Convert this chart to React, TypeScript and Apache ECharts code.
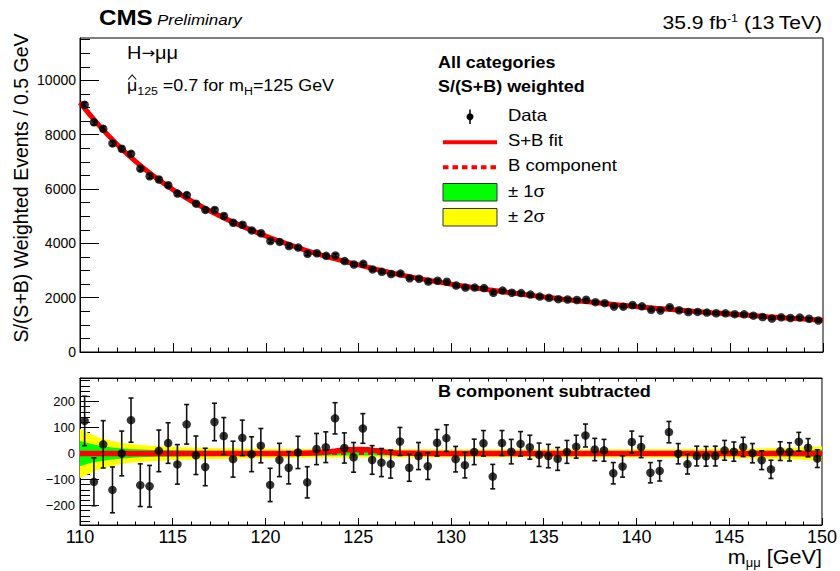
import React, { useEffect, useRef } from 'react';
import * as echarts from 'echarts';

const FONT = 'Liberation Sans, Arial, Helvetica, sans-serif';

// binning of the histogram (0.5 GeV bins from 110 to 150 GeV)
const BIN_START = 110;
const BIN_WIDTH = 0.5;

// S/(S+B) weighted events per bin (upper panel)
const dataWeighted = [
  9100, 8456, 8215, 7680, 7482, 7295, 6750, 6471, 6350, 6140,
  5833, 5777, 5460, 5230, 5227, 5006, 4757, 4686, 4477, 4370,
  4085, 4054, 3901, 3843, 3615, 3636, 3540, 3554, 3346, 3220,
  3245, 3041, 2952, 2871, 2887, 2717, 2697, 2595, 2625, 2585,
  2448, 2372, 2371, 2354, 2178, 2260, 2182, 2169, 2113, 2041,
  1995, 1945, 1933, 1916, 1923, 1834, 1797, 1676, 1669, 1730,
  1680, 1551, 1529, 1649, 1538, 1471, 1476, 1450, 1426, 1424,
  1394, 1387, 1339, 1288, 1229, 1276, 1251, 1268, 1223, 1160,
];

// data minus B component (lower panel)
const residuals = [
  125, -109, 35, -140, 0, 128, -122, -126, 10, 40,
  -42, 112, -7, -52, 121, 67, -22, 60, -3, 30,
  -121, -25, -55, 4, -111, 17, 24, 135, 21, -15,
  96, -25, -35, -41, 46, -55, -10, -49, 41, 59,
  -22, -45, 6, 39, -89, 40, 7, 37, 24, -5,
  -10, -21, 6, 26, 69, 15, 12, -76, -50, 44,
  25, -74, -67, 82, -1, -41, -10, -11, -10, 12,
  7, 25, 1, -26, -61, 9, 6, 45, 22, -20,
];

// statistical uncertainty per bin
const errors = [
  95, 92, 91, 88, 86, 85, 82, 80, 80, 78,
  76, 76, 74, 72, 72, 71, 69, 68, 67, 66,
  64, 64, 62, 62, 60, 60, 59, 60, 58, 57,
  57, 55, 54, 54, 54, 52, 52, 51, 51, 51,
  49, 49, 49, 49, 47, 48, 47, 47, 46, 45,
  45, 44, 44, 44, 44, 43, 42, 41, 41, 42,
  41, 39, 39, 41, 39, 38, 38, 38, 38, 38,
  37, 37, 37, 36, 35, 36, 35, 36, 35, 34,
];

// fit curves sampled every 1 GeV (upper panel)
const fitX = [
  110, 111, 112, 113, 114, 115, 116, 117, 118, 119,
  120, 121, 122, 123, 124, 125, 126, 127, 128, 129,
  130, 131, 132, 133, 134, 135, 136, 137, 138, 139,
  140, 141, 142, 143, 144, 145, 146, 147, 148, 149, 150,
];
const fitB = [
  9180, 8360, 7640, 7010, 6460, 5980, 5560, 5190, 4855, 4550,
  4270, 4015, 3780, 3565, 3370, 3190, 3025, 2875, 2738, 2613,
  2497, 2390, 2290, 2197, 2110, 2025, 1946, 1872, 1802, 1735,
  1670, 1610, 1553, 1499, 1448, 1400, 1350, 1302, 1256, 1212, 1170,
];
const fitSB = [
  9180, 8360, 7640, 7010, 6460, 5980, 5560, 5190, 4855, 4550,
  4270, 4015, 3781, 3569, 3381, 3205, 3035, 2877, 2738, 2613,
  2497, 2390, 2290, 2197, 2110, 2025, 1946, 1872, 1802, 1735,
  1670, 1610, 1553, 1499, 1448, 1400, 1350, 1302, 1256, 1212, 1170,
];

// S+B fit minus B component (lower panel)
const sigX = [110, 121, 122, 123, 123.5, 124, 124.5, 125, 125.5, 126, 126.5, 127, 128, 129, 150];
const sigY = [0, 0, 1, 4, 7, 11, 14, 15, 14, 10, 5, 2, 0.5, 0, 0];

// uncertainty bands of the B component (lower panel)
const bandX = [110, 110.25, 110.5, 110.75, 111, 111.5, 112, 112.5, 113, 114, 115, 116, 117, 118, 120, 122, 125, 128, 130, 135, 140, 143, 145, 146, 147, 148, 149, 150];
const sigma1 = [48, 43, 38, 34, 31, 25, 21, 18, 16, 13, 12, 11, 10, 9.5, 9, 8.5, 8, 8, 7.5, 7.5, 8, 8.5, 9, 9.5, 10, 11, 12, 14];
const sigma2 = [95, 86, 78, 69, 62, 52, 44, 38, 34, 29, 25, 23, 21, 20, 18, 17, 16, 16, 15, 15, 16, 17, 18, 19, 20, 21.5, 24, 28];

// tick labels
const xTickLabels = [110, 115, 120, 125, 130, 135, 140, 145, 150];
const upperYTickLabels = [0, 2000, 4000, 6000, 8000, 10000];
const lowerYTickLabels = [-200, -100, 0, 100, 200];

const X_MIN = 110;
const X_MAX = 150;
const UPPER_Y_MAX = 11560;
const LOWER_Y_MIN = -275;
const LOWER_Y_MAX = 290;

function range(a: number, b: number, step: number) {
  const out: number[] = [];
  for (let v = a; v <= b + 1e-9; v += step) out.push(Math.round(v * 1000) / 1000);
  return out;
}

const xMinor = range(110, 150, 1).filter((v) => v % 5 !== 0);
const upperYMinor = range(500, 11500, 500).filter((v) => v % 2000 !== 0);
const lowerYMinor = range(-260, 280, 20).filter((v) => v % 100 !== 0);

const BLACK = '#000000';
const RED = '#ff0000';

function fmtNum(v: number) {
  return v < 0 ? '\u2212' + Math.abs(v) : String(v);
}

function errorBarRender(params: any, api: any) {
  const x = api.value(0);
  const lo = api.value(1);
  const hi = api.value(2);
  const pLo = api.coord([x, lo]);
  const pHi = api.coord([x, hi]);
  const cap = 2.5;
  const st = { stroke: '#111', lineWidth: 1.6 };
  return {
    type: 'group',
    children: [
      { type: 'line', shape: { x1: pLo[0], y1: pLo[1], x2: pHi[0], y2: pHi[1] }, style: st },
      { type: 'line', shape: { x1: pLo[0] - cap, y1: pLo[1], x2: pLo[0] + cap, y2: pLo[1] }, style: st },
      { type: 'line', shape: { x1: pHi[0] - cap, y1: pHi[1], x2: pHi[0] + cap, y2: pHi[1] }, style: st },
    ],
  };
}

function bandRender(params: any, api: any) {
  const poly = (s: number[]) => {
    const up = bandX.map((x, i) => api.coord([x, s[i]]));
    const down = bandX.map((x, i) => api.coord([x, -s[i]])).reverse();
    return up.concat(down);
  };
  return {
    type: 'group',
    children: [
      { type: 'polygon', shape: { points: poly(sigma2) }, style: { fill: '#ffff00' } },
      { type: 'polygon', shape: { points: poly(sigma1) }, style: { fill: '#00ff00' } },
    ],
  };
}

function txt(x: number, y: number, text: string, opts: any = {}) {
  const { scaleX = 1, rotation = 0, align = 'left', rich, ...rest } = opts;
  return {
    type: 'text',
    x,
    y,
    scaleX,
    rotation,
    z: 100,
    style: {
      text,
      fill: BLACK,
      fontFamily: FONT,
      align,
      textAlign: align,
      verticalAlign: 'middle',
      textVerticalAlign: 'middle',
      rich,
      ...rest,
    },
  };
}

export default function App() {
  const ref = useRef<HTMLDivElement>(null);

  useEffect(() => {
    document.body.style.margin = '0';
    if (!ref.current) return;
    const chart = echarts.init(ref.current, null, { renderer: 'svg' });

    const centers = dataWeighted.map((_, i) => BIN_START + (i + 0.5) * BIN_WIDTH);

    const tickStyle = { color: BLACK, width: 1 };
    const xBase = { type: 'value', min: X_MIN, max: X_MAX, splitLine: { show: false } };

    const option: any = {
      animation: false,
      backgroundColor: '#ffffff',
      grid: [
        { left: 80, top: 38, width: 743, height: 314, show: true, borderColor: BLACK, borderWidth: 1, backgroundColor: 'transparent' },
        { left: 80, top: 378, width: 743, height: 147, show: true, borderColor: BLACK, borderWidth: 1, backgroundColor: 'transparent' },
      ],
      xAxis: [
        {
          ...xBase, gridIndex: 0, position: 'bottom',
          axisLine: { show: true, onZero: false, lineStyle: tickStyle },
          axisTick: { show: true, inside: true, length: 9, customValues: xTickLabels, lineStyle: tickStyle },
          axisLabel: { show: false },
        },
        {
          ...xBase, gridIndex: 0, position: 'bottom',
          axisLine: { show: false, onZero: false },
          axisTick: { show: true, inside: true, length: 4.5, customValues: xMinor, lineStyle: tickStyle },
          axisLabel: { show: false },
        },
        {
          ...xBase, gridIndex: 1, position: 'bottom',
          axisLine: { show: true, onZero: false, lineStyle: tickStyle },
          axisTick: { show: true, inside: true, length: 7, customValues: xTickLabels, lineStyle: tickStyle },
          axisLabel: {
            show: true, customValues: xTickLabels, fontSize: 18, margin: 3, color: BLACK, fontFamily: FONT,
            formatter: (v: number) => String(v),
          },
        },
        {
          ...xBase, gridIndex: 1, position: 'bottom',
          axisLine: { show: false, onZero: false },
          axisTick: { show: true, inside: true, length: 3.5, customValues: xMinor, lineStyle: tickStyle },
          axisLabel: { show: false },
        },
        {
          ...xBase, gridIndex: 1, position: 'top',
          axisLine: { show: true, onZero: false, lineStyle: tickStyle },
          axisTick: { show: true, inside: true, length: 3.5, customValues: range(111, 149, 1), lineStyle: tickStyle },
          axisLabel: { show: false },
        },
      ],
      yAxis: [
        {
          type: 'value', gridIndex: 0, position: 'left', min: 0, max: UPPER_Y_MAX, splitLine: { show: false },
          axisLine: { show: true, onZero: false, lineStyle: tickStyle },
          axisTick: { show: true, inside: true, length: 19, customValues: upperYTickLabels, lineStyle: tickStyle },
          axisLabel: {
            show: true, customValues: upperYTickLabels, fontSize: 14, margin: 4, color: BLACK, fontFamily: FONT,
            formatter: (v: number) => fmtNum(v),
          },
        },
        {
          type: 'value', gridIndex: 0, position: 'left', min: 0, max: UPPER_Y_MAX, splitLine: { show: false },
          axisLine: { show: false, onZero: false },
          axisTick: { show: true, inside: true, length: 10, customValues: upperYMinor, lineStyle: tickStyle },
          axisLabel: { show: false },
        },
        {
          type: 'value', gridIndex: 1, position: 'left', min: LOWER_Y_MIN, max: LOWER_Y_MAX, splitLine: { show: false },
          axisLine: { show: true, onZero: false, lineStyle: tickStyle },
          axisTick: { show: true, inside: true, length: 19, customValues: lowerYTickLabels, lineStyle: tickStyle },
          axisLabel: {
            show: true, customValues: lowerYTickLabels, fontSize: 13, margin: 5, color: BLACK, fontFamily: FONT,
            formatter: (v: number) => fmtNum(v),
          },
        },
        {
          type: 'value', gridIndex: 1, position: 'left', min: LOWER_Y_MIN, max: LOWER_Y_MAX, splitLine: { show: false },
          axisLine: { show: false, onZero: false },
          axisTick: { show: true, inside: true, length: 10, customValues: lowerYMinor, lineStyle: tickStyle },
          axisLabel: { show: false },
        },
      ],
      series: [
        // ---------- upper panel ----------
        {
          name: 'B component', type: 'line', xAxisIndex: 0, yAxisIndex: 0, z: 2,
          data: fitX.map((x, i) => [x, fitB[i]]), smooth: 0.4, showSymbol: false, symbol: 'none',
          lineStyle: { color: RED, width: 3, type: [6, 3] },
        },
        {
          name: 'S+B fit', type: 'line', xAxisIndex: 0, yAxisIndex: 0, z: 3,
          data: fitX.map((x, i) => [x, fitSB[i]]), smooth: 0.4, showSymbol: false, symbol: 'none',
          lineStyle: { color: RED, width: 5 },
        },
        {
          name: 'Data errors', type: 'custom', xAxisIndex: 0, yAxisIndex: 0, z: 4,
          renderItem: errorBarRender, encode: { x: 0, y: [1, 2] },
          data: dataWeighted.map((v, i) => [centers[i], v - errors[i], v + errors[i]]),
        },
        {
          name: 'Data', type: 'scatter', xAxisIndex: 0, yAxisIndex: 0, z: 5,
          data: dataWeighted.map((v, i) => [centers[i], v]),
          symbol: 'circle', symbolSize: 8.5, itemStyle: { color: BLACK },
        },
        // ---------- lower panel ----------
        {
          name: 'bands', type: 'custom', xAxisIndex: 2, yAxisIndex: 2, z: 1,
          renderItem: bandRender, encode: { x: 0, y: 1 }, data: [[130, 0]],
        },
        {
          name: 'B component (sub)', type: 'line', xAxisIndex: 2, yAxisIndex: 2, z: 2,
          data: [[X_MIN, 0], [X_MAX, 0]], showSymbol: false, symbol: 'none',
          lineStyle: { color: RED, width: 3, type: [5, 4] },
        },
        {
          name: 'S+B fit (sub)', type: 'line', xAxisIndex: 2, yAxisIndex: 2, z: 3,
          data: sigX.map((x, i) => [x, sigY[i]]), smooth: 0.5, showSymbol: false, symbol: 'none',
          lineStyle: { color: RED, width: 5.5 },
        },
        {
          name: 'Residual errors', type: 'custom', xAxisIndex: 2, yAxisIndex: 2, z: 4,
          renderItem: errorBarRender, encode: { x: 0, y: [1, 2] },
          data: residuals.map((v, i) => [centers[i], v - errors[i], v + errors[i]]),
        },
        {
          name: 'Residuals', type: 'scatter', xAxisIndex: 2, yAxisIndex: 2, z: 5,
          data: residuals.map((v, i) => [centers[i], v]),
          symbol: 'circle', symbolSize: 8.5, itemStyle: { color: BLACK },
        },
      ],
      graphic: [
        // header
        txt(99, 17, 'CMS', { fontSize: 22, fontWeight: 'bold', scaleX: 1.1 }),
        txt(157, 19.5, 'Preliminary', { fontSize: 15, fontStyle: 'italic', scaleX: 1.13 }),
        txt(822, 22, '{a|35.9 fb}{s|-1}{a| (13\u2009TeV)}', {
          align: 'right', scaleX: 1.14,
          rich: {
            a: { fontSize: 18.5, lineHeight: 20, fontFamily: FONT, fill: BLACK },
            s: { fontSize: 11, lineHeight: 11, verticalAlign: 'top', fontFamily: FONT, fill: BLACK },
          },
        }),
        // y axis title
        txt(21, 188, 'S/(S+B) Weighted Events / 0.5 GeV', { fontSize: 19.5, align: 'center', rotation: Math.PI / 2 }),
        // annotations
        txt(127, 53, '{a|H}{r|\u2192}{a|\u03bc\u03bc}', {
          scaleX: 1.08,
          rich: {
            a: { fontSize: 18.5, lineHeight: 22, fontFamily: FONT, fill: BLACK },
            r: { fontSize: 15, lineHeight: 22, fontFamily: 'DejaVu Sans', fill: BLACK },
          },
        }),
        txt(127, 86, '{a|\u03bc}{s|125}{a| =0.7 for m}{s|H}{a|=125 GeV}', {
          scaleX: 1.12,
          rich: {
            a: { fontSize: 16, lineHeight: 20, fontFamily: FONT, fill: BLACK },
            s: { fontSize: 11, lineHeight: 11, verticalAlign: 'bottom', fontFamily: FONT, fill: BLACK },
          },
        }),
        // circumflex (hat) over mu
        {
          type: 'polyline', z: 100,
          shape: { points: [[128.2, 79.5], [132.2, 75], [136.2, 79.5]] },
          style: { stroke: BLACK, lineWidth: 1.1, fill: null },
        },
        // legend
        txt(438, 63, 'All categories', { fontSize: 16, fontWeight: 'bold', scaleX: 1.12 }),
        txt(438, 86.5, 'S/(S+B) weighted', { fontSize: 16, fontWeight: 'bold', scaleX: 1.12 }),
        { type: 'line', z: 100, shape: { x1: 470, y1: 109.5, x2: 470, y2: 124 }, style: { stroke: BLACK, lineWidth: 1.5 } },
        { type: 'circle', z: 100, shape: { cx: 470, cy: 116.7, r: 3.5 }, style: { fill: BLACK } },
        txt(508, 115, 'Data', { fontSize: 16.5, scaleX: 1.12 }),
        { type: 'line', z: 100, shape: { x1: 443, y1: 142.3, x2: 497, y2: 142.3 }, style: { stroke: RED, lineWidth: 4 } },
        txt(508, 140.5, 'S+B fit', { fontSize: 16.5, scaleX: 1.12 }),
        { type: 'line', z: 100, shape: { x1: 443, y1: 167.3, x2: 497, y2: 167.3 }, style: { stroke: RED, lineWidth: 4, lineDash: [5.5, 4] } },
        txt(508, 165.5, 'B component', { fontSize: 16.5, scaleX: 1.12 }),
        { type: 'rect', z: 100, shape: { x: 443, y: 183.5, width: 54, height: 17.5 }, style: { fill: '#00ff00', stroke: '#333', lineWidth: 1 } },
        txt(508, 191, '\u00b1 1\u03c3', { fontSize: 16.5, scaleX: 1.12 }),
        { type: 'rect', z: 100, shape: { x: 443, y: 208.5, width: 54, height: 17.5 }, style: { fill: '#ffff00', stroke: '#333', lineWidth: 1 } },
        txt(508, 216.5, '\u00b1 2\u03c3', { fontSize: 16.5, scaleX: 1.12 }),
        // lower panel title
        txt(438, 392, 'B component subtracted', { fontSize: 16, fontWeight: 'bold', scaleX: 1.13 }),
        // x axis title
        txt(822, 557, '{a|m}{s|\u03bc\u03bc}{a| [GeV]}', {
          align: 'right', scaleX: 1.08,
          rich: {
            a: { fontSize: 20, lineHeight: 24, fontFamily: FONT, fill: BLACK },
            s: { fontSize: 12, lineHeight: 12, verticalAlign: 'bottom', fontFamily: FONT, fill: BLACK },
          },
        }),
      ],
    };

    chart.setOption(option);
    return () => chart.dispose();
  }, []);

  return <div ref={ref} style={{ width: 840, height: 571 }} />;
}
